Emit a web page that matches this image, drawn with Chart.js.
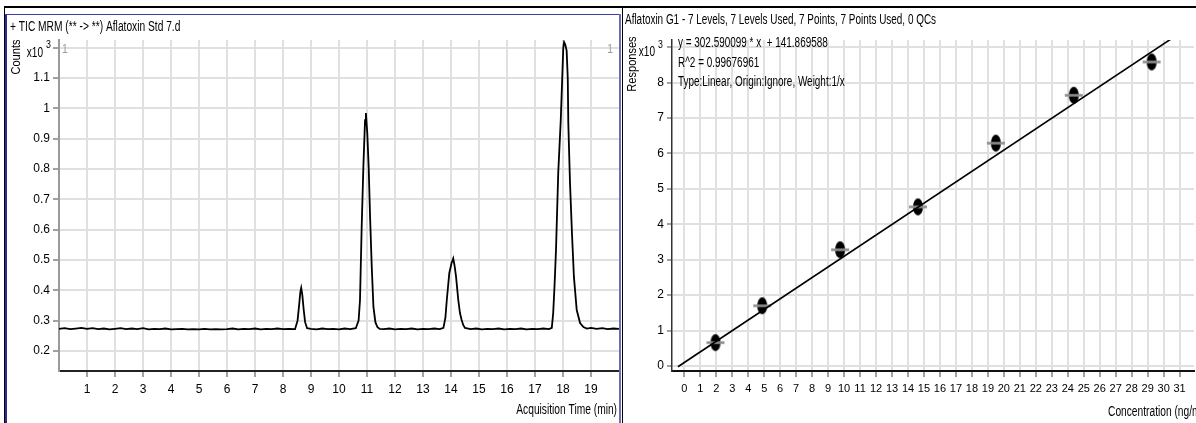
<!DOCTYPE html>
<html>
<head>
<meta charset="utf-8">
<script src="https://cdn.jsdelivr.net/npm/chart.js@4.4.1/dist/chart.umd.min.js"></script>
<style>
  html, body { margin: 0; padding: 0; background: #fff; overflow: hidden; }
  body { width: 1196px; height: 423px; position: relative; }
  canvas, .ln { position: absolute; }
  .ln { z-index: 2; }
</style>
</head>
<body>
<canvas id="tic" width="613" height="408" style="left:7px;top:15px"></canvas>
<canvas id="calib" width="580" height="415" style="left:623px;top:8px"></canvas>
<div class="ln" style="left:4px;top:6px;width:1192px;height:2px;background:#000"></div>
<div class="ln" style="left:4px;top:6px;width:1px;height:417px;background:#000"></div>
<div class="ln" style="left:5px;top:14px;width:2px;height:409px;background:#2a2a9e"></div>
<div class="ln" style="left:5px;top:14px;width:616px;height:1px;background:#3c3cab"></div>
<div class="ln" style="left:619px;top:14px;width:2px;height:409px;background:#6c6cb8"></div>
<div class="ln" style="left:622px;top:6px;width:1px;height:417px;background:#000"></div>
<script>
const FONT = "'Liberation Sans Narrow', 'Arial Narrow', 'Liberation Sans', Arial, sans-serif";
Chart.defaults.font.family = FONT;
Chart.defaults.font.size = 12;
Chart.defaults.color = '#000';

// TIC chromatogram, counts x10^3 against acquisition time (min)
const ticTime = [
  0.0, 0.2, 0.4, 0.6, 0.8, 1.0, 1.2, 1.4, 1.6, 1.8, 2.0, 2.2, 2.4, 2.6, 2.8, 3.0,
  3.2, 3.4, 3.6, 3.8, 4.0, 4.2, 4.4, 4.6, 4.8, 5.0, 5.2, 5.4, 5.6, 5.8, 6.0, 6.2,
  6.4, 6.6, 6.8, 7.0, 7.2, 7.4, 7.6, 7.8, 8.0, 8.2, 8.43,
  8.52, 8.58, 8.62, 8.65, 8.69, 8.74, 8.79, 8.86,
  9.0, 9.2, 9.4, 9.6, 9.8, 10.0, 10.2, 10.4, 10.6,
  10.70, 10.75, 10.81, 10.87, 10.93, 10.96, 11.01, 11.06, 11.11, 11.17, 11.23, 11.30, 11.37, 11.45,
  11.6, 11.8, 12.0, 12.2, 12.4, 12.6, 12.8, 13.0, 13.2, 13.4, 13.6,
  13.73, 13.80, 13.85, 13.94, 14.02, 14.08, 14.13, 14.18, 14.26, 14.32, 14.38, 14.44, 14.50,
  14.7, 14.9, 15.1, 15.3, 15.5, 15.7, 15.9, 16.1, 16.3, 16.5, 16.7, 16.9, 17.1, 17.3, 17.5,
  17.60, 17.65, 17.70, 17.75, 17.83, 17.92, 17.98, 18.01, 18.04, 18.08, 18.13, 18.17, 18.19,
  18.25, 18.32, 18.39, 18.49, 18.61, 18.73, 18.85,
  19.0, 19.2, 19.4, 19.6, 19.8, 20.0
];
const ticCounts = [
  0.273, 0.275, 0.272, 0.274, 0.276, 0.273, 0.275, 0.272, 0.274, 0.271, 0.273, 0.275, 0.272, 0.274, 0.272, 0.275,
  0.271, 0.273, 0.272, 0.274, 0.271, 0.272, 0.273, 0.271, 0.272, 0.271, 0.273, 0.271, 0.272, 0.271, 0.272, 0.274,
  0.271, 0.273, 0.272, 0.274, 0.271, 0.273, 0.272, 0.274, 0.272, 0.273, 0.272,
  0.300, 0.355, 0.395, 0.408, 0.385, 0.335, 0.295, 0.275,
  0.273, 0.271, 0.274, 0.272, 0.273, 0.271, 0.274, 0.272, 0.275,
  0.300, 0.368, 0.608, 0.806, 0.961, 0.984, 0.918, 0.806, 0.642, 0.477, 0.345, 0.295, 0.279, 0.273,
  0.272, 0.274, 0.271, 0.273, 0.272, 0.274, 0.271, 0.273, 0.272, 0.274, 0.272,
  0.276, 0.310, 0.368, 0.457, 0.490, 0.505, 0.480, 0.445, 0.368, 0.325, 0.302, 0.285, 0.276,
  0.272, 0.274, 0.271, 0.273, 0.272, 0.274, 0.271, 0.273, 0.272, 0.274, 0.271, 0.273, 0.272, 0.274, 0.272,
  0.276, 0.325, 0.420, 0.533, 0.787, 0.961, 1.120, 1.200, 1.218, 1.210, 1.190, 1.100, 0.950,
  0.754, 0.589, 0.444, 0.335, 0.292, 0.279, 0.274,
  0.276, 0.273, 0.275, 0.272, 0.274, 0.273
];
const ticXTicks = [1, 2, 3, 4, 5, 6, 7, 8, 9, 10, 11, 12, 13, 14, 15, 16, 17, 18, 19];
const ticYTicks = [0.2, 0.3, 0.4, 0.5, 0.6, 0.7, 0.8, 0.9, 1.0, 1.1, 1.2];

// Calibration of Aflatoxin G1, responses x10^3 against concentration (ng/ml)
const calConc = [1.95, 4.875, 9.75, 14.625, 19.5, 24.375, 29.25];
const calResp = [0.66, 1.70, 3.28, 4.49, 6.29, 7.64, 8.58];
const fitConc = [-0.4, 31.9];
const fitResp = [-0.02, 9.66];
const calXTicks = [0, 1, 2, 3, 4, 5, 6, 7, 8, 9, 10, 11, 12, 13, 14, 15, 16, 17, 18, 19, 20,
                   21, 22, 23, 24, 25, 26, 27, 28, 29, 30, 31];
const calYTicks = [0, 1, 2, 3, 4, 5, 6, 7, 8, 9];

function pairs(xs, ys) {
  return xs.map((x, i) => ({ x: x, y: ys[i] }));
}

function setTicks(list) {
  return axis => { axis.ticks = list.map(v => ({ value: v })); };
}

// text squeezed sideways, the source software uses a narrow face
function narrow(ctx, txt, x, y, align, size, sx, rot) {
  ctx.save();
  ctx.font = size + 'px ' + FONT;
  ctx.translate(x, y);
  if (rot) ctx.rotate(-Math.PI / 2);
  ctx.scale(sx, 1);
  ctx.textAlign = align;
  ctx.fillText(txt, 0, 0);
  ctx.restore();
}

function exponentLabel(ctx, left, py, dx) {
  narrow(ctx, 'x10', left - dx, py + 5.5, 'right', 14, 0.72);
  narrow(ctx, '3', left - dx + 3, py - 2.5, 'left', 11, 0.8);
}

const ticText = {
  id: 'ticText',
  afterDraw(chart) {
    const ctx = chart.ctx, area = chart.chartArea;
    ctx.save();
    ctx.fillStyle = '#000';
    ctx.textBaseline = 'middle';
    narrow(ctx, '+ TIC MRM (** -> **) Aflatoxin Std 7.d', 3, 12, 'left', 14, 0.73);
    narrow(ctx, 'Counts', 9, 42, 'center', 13, 0.85, true);
    exponentLabel(ctx, area.left, chart.scales.y.getPixelForValue(1.2), 16);
    narrow(ctx, 'Acquisition Time (min)', 610, 395, 'right', 14, 0.73);
    ctx.fillStyle = '#9a9a9a';
    narrow(ctx, '1', area.left + 3, area.top + 9, 'left', 13, 0.8);
    narrow(ctx, '1', area.right - 6, area.top + 9, 'right', 13, 0.8);
    ctx.restore();
  }
};

const calText = {
  id: 'calText',
  afterDraw(chart) {
    const ctx = chart.ctx, area = chart.chartArea;
    ctx.save();
    ctx.fillStyle = '#000';
    ctx.textBaseline = 'middle';
    narrow(ctx, 'Aflatoxin G1 - 7 Levels, 7 Levels Used, 7 Points, 7 Points Used, 0 QCs', 2, 12, 'left', 14, 0.71);
    narrow(ctx, 'y = 302.590099 * x  + 141.869588', 55, 35, 'left', 14, 0.71);
    narrow(ctx, 'R^2 = 0.99676961', 55, 55, 'left', 14, 0.71);
    narrow(ctx, 'Type:Linear, Origin:Ignore, Weight:1/x', 55, 74, 'left', 14, 0.71);
    narrow(ctx, 'Concentration (ng/ml)', 485, 404, 'left', 14, 0.73);
    narrow(ctx, 'Responses', 9, 56, 'center', 13, 0.85, true);
    exponentLabel(ctx, area.left, chart.scales.y.getPixelForValue(9), 17);
    ctx.restore();
  }
};

function marker() {
  const c = document.createElement('canvas');
  c.width = 22;
  c.height = 19;
  const g = c.getContext('2d');
  g.fillStyle = '#000';
  g.beginPath();
  g.ellipse(11, 9.5, 5, 8.5, 0, 0, Math.PI * 2);
  g.fill();
  g.fillStyle = '#8e8e8e';
  g.fillRect(2, 8.2, 18, 2.6);
  return c;
}

const gridStyle = { color: '#e0e0e0', lineWidth: 2, tickColor: '#444', tickWidth: 1 };

new Chart(document.getElementById('tic'), {
  type: 'line',
  data: {
    datasets: [{
      data: pairs(ticTime, ticCounts),
      borderColor: '#000',
      borderWidth: 1.8,
      pointRadius: 0,
      tension: 0,
      fill: false
    }]
  },
  options: {
    responsive: false,
    animation: false,
    layout: { padding: { top: 25, right: 1, left: 0, bottom: 0 } },
    plugins: { legend: { display: false }, tooltip: { enabled: false } },
    scales: {
      x: {
        type: 'linear', min: 0, max: 20,
        afterBuildTicks: setTicks(ticXTicks),
        afterFit: s => { s.height = 52; },
        grid: Object.assign({ tickLength: 6 }, gridStyle),
        border: { color: '#222', width: 2 },
        ticks: { padding: 5, maxRotation: 0, autoSkip: false }
      },
      y: {
        min: 0.134, max: 1.225,
        afterBuildTicks: setTicks(ticYTicks),
        afterFit: s => { s.width = 52; },
        grid: Object.assign({ tickLength: 6 }, gridStyle),
        border: { color: '#9a9a9a', width: 2 },
        ticks: {
          padding: 3, autoSkip: false,
          callback: v => (Math.abs(v - 1.2) < 1e-6 ? '' : String(Math.round(v * 10) / 10))
        }
      }
    }
  },
  plugins: [ticText]
});

new Chart(document.getElementById('calib'), {
  type: 'scatter',
  data: {
    datasets: [{
      type: 'line',
      data: pairs(fitConc, fitResp),
      borderColor: '#000',
      borderWidth: 1.6,
      pointRadius: 0,
      fill: false
    }, {
      data: pairs(calConc, calResp),
      pointStyle: marker(),
      pointRadius: 8
    }]
  },
  options: {
    responsive: false,
    animation: false,
    layout: { padding: { top: 32, right: 0, left: 0, bottom: 0 } },
    plugins: { legend: { display: false }, tooltip: { enabled: false } },
    scales: {
      x: {
        type: 'linear', min: -0.77, max: 31.9,
        afterBuildTicks: setTicks(calXTicks),
        afterFit: s => { s.height = 52; },
        grid: Object.assign({ tickLength: 6 }, gridStyle),
        border: { color: '#111', width: 2 },
        ticks: { padding: 5, maxRotation: 0, autoSkip: false, font: { size: 11 } }
      },
      y: {
        type: 'linear', min: -0.14, max: 9.2,
        afterBuildTicks: setTicks(calYTicks),
        afterFit: s => { s.width = 49; },
        grid: Object.assign({ tickLength: 5 }, gridStyle),
        border: { color: '#333', width: 1.5 },
        ticks: {
          padding: 3, autoSkip: false,
          callback: v => (v === 9 ? '' : String(v))
        }
      }
    }
  },
  plugins: [calText]
});
</script>
</body>
</html>
